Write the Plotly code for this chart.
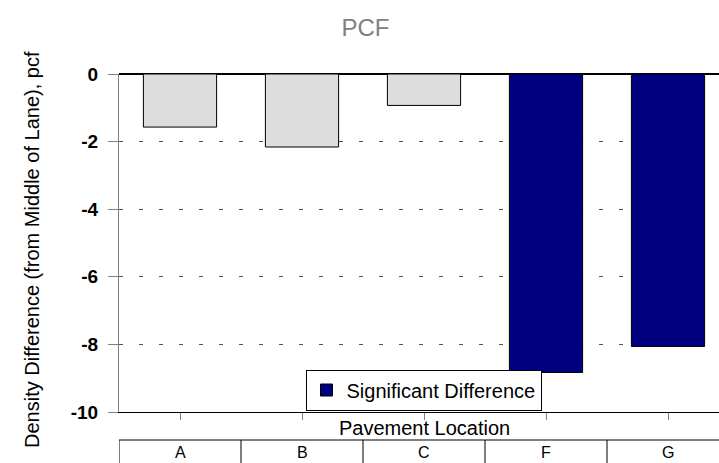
import plotly.graph_objects as go

# Pavement locations and density differences (pcf) from the middle of the lane
locations = ["A", "B", "C", "F", "G"]
density_diff = [-1.57, -2.16, -0.93, -8.83, -8.06]
significant = [False, False, False, True, True]

y_tick_vals = [0, -2, -4, -6, -8, -10]
y_tick_text = ["0", "-2", "-4", "-6", "-8", "-10"]

FONT = "Arial, Liberation Sans, sans-serif"
W, H = 719, 463
M_L, M_R, M_T, M_B = 119, 0, 74, 51
PLOT_W = W - M_L - M_R
PLOT_H = H - M_T - M_B


def paper_y(px):
    """Convert a pixel row in the page to paper y coordinates."""
    return (H - M_B - px) / PLOT_H


def paper_x(px):
    """Convert a pixel column in the page to paper x coordinates."""
    return (px - M_L) / PLOT_W


plain_x = [c for c, s in zip(locations, significant) if not s]
plain_y = [v for v, s in zip(density_diff, significant) if not s]
sig_x = [c for c, s in zip(locations, significant) if s]
sig_y = [v for v, s in zip(density_diff, significant) if s]

fig = go.Figure()
fig.add_trace(go.Bar(
    x=plain_x, y=plain_y, width=0.6, showlegend=False,
    marker=dict(color="#DDDDDD", line=dict(color="black", width=1)),
))
fig.add_trace(go.Bar(
    x=sig_x, y=sig_y, width=0.6, name="Significant Difference",
    marker=dict(color="#000080", line=dict(color="black", width=1)),
))

# Category table under the axis
shapes = [dict(type="line", xref="paper", yref="paper", x0=0, x1=1,
               y0=paper_y(440), y1=paper_y(440),
               line=dict(color="black", width=1))]
for i in range(len(locations) + 1):
    shapes.append(dict(type="line", xref="x", yref="paper",
                       x0=i - 0.5, x1=i - 0.5,
                       y0=paper_y(440), y1=paper_y(470),
                       line=dict(color="black", width=1)))

annotations = [dict(x=i, y=paper_y(452), xref="x", yref="paper",
                    text=c, showarrow=False, yanchor="middle",
                    font=dict(family=FONT, size=16, color="black"))
               for i, c in enumerate(locations)]
annotations.append(dict(x=2, y=paper_y(428), xref="x", yref="paper",
                        text="Pavement Location", showarrow=False,
                        yanchor="middle",
                        font=dict(family=FONT, size=20, color="black")))
annotations.append(dict(x=paper_x(32), y=paper_y(250),
                        xref="paper", yref="paper",
                        text="Density Difference (from Middle of Lane), pcf",
                        showarrow=False, textangle=-90,
                        xanchor="center", yanchor="middle",
                        font=dict(family=FONT, size=20, color="black")))

fig.update_layout(
    width=W, height=H,
    margin=dict(l=M_L, r=M_R, t=M_T, b=M_B),
    paper_bgcolor="white", plot_bgcolor="white",
    barmode="overlay",
    title=dict(text="PCF", x=365.5 / W, xanchor="center", xref="container",
               y=1 - 28 / H, yanchor="middle", yref="container",
               font=dict(family=FONT, size=24, color="#808080")),
    xaxis=dict(
        type="category", categoryorder="array", categoryarray=locations,
        range=[-0.5, -0.5 + PLOT_W / 122.0],
        showline=True, linecolor="black", linewidth=1,
        ticks="outside", ticklen=7, tickcolor="#808080", tickwidth=1,
        showticklabels=False, showgrid=False, zeroline=False,
    ),
    yaxis=dict(
        range=[-10, 0], tickvals=y_tick_vals, ticktext=y_tick_text,
        showline=True, linecolor="#808080", linewidth=1,
        ticks="outside", ticklen=10, tickcolor="#808080", tickwidth=1,
        ticklabelstandoff=6,
        tickfont=dict(family=FONT, size=19, color="black", weight="bold"),
        showgrid=True, gridcolor="#555555", gridwidth=1, griddash="4px,16px",
        zeroline=True, zerolinecolor="black", zerolinewidth=1.5,
    ),
    legend=dict(
        x=paper_x(423.5), xanchor="center",
        y=paper_y(390), yanchor="middle",
        bgcolor="white", bordercolor="black", borderwidth=1,
        font=dict(family=FONT, size=20, color="black"),
        itemwidth=30,
    ),
    shapes=shapes,
    annotations=annotations,
)

fig.write_html("out.html")
